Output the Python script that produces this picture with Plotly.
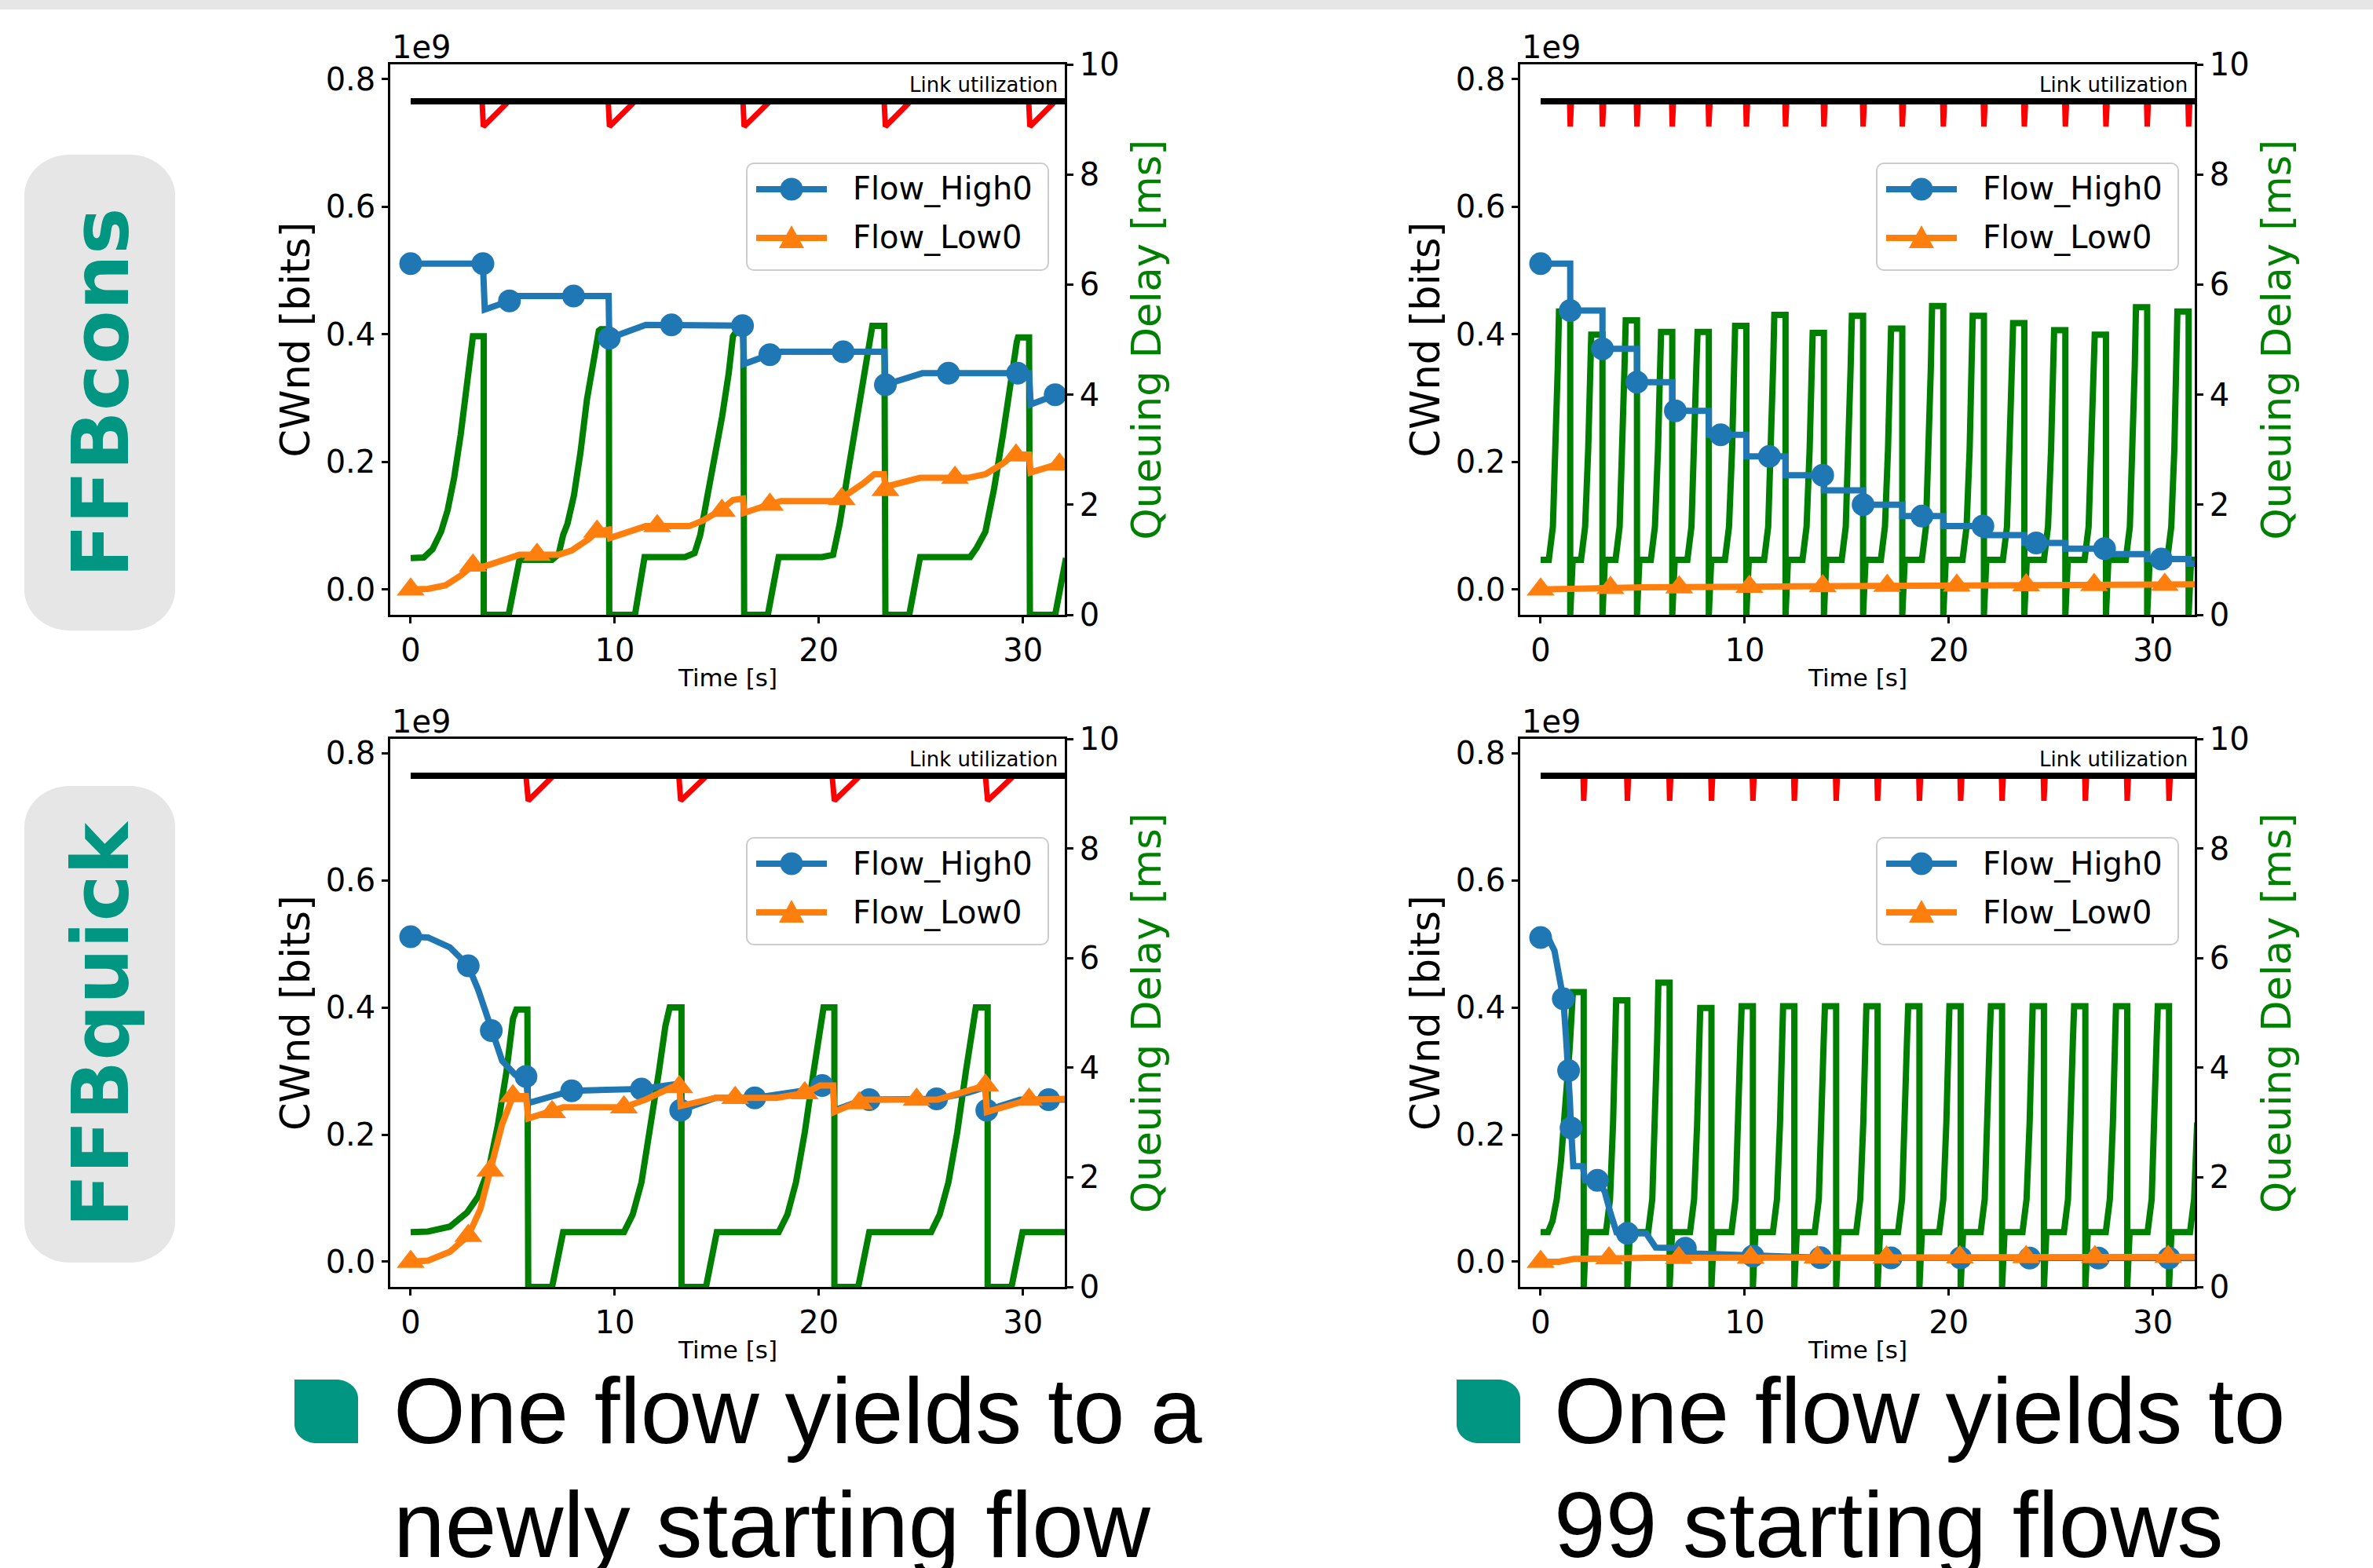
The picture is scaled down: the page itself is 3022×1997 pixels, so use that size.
import plotly.graph_objects as go

W, H = 3022, 1997
FONT = "DejaVu Sans"
BODY_FONT = "Liberation Sans, Arial, sans-serif"
TEAL = "#009682"
GRAY = "#e6e6e6"
BLUE = "#1f77b4"
ORANGE = "#ff7f0e"
GREEN = "#008000"
RED = "#ff0000"
LW = 8

# ---------------- ticks / texts ----------------
time_ticks = [0, 10, 20, 30]
cwnd_ticks = [0.0, 0.2, 0.4, 0.6, 0.8]
cwnd_tick_text = ["0.0", "0.2", "0.4", "0.6", "0.8"]
delay_ticks = [0, 2, 4, 6, 8, 10]
series_names = ["Flow_High0", "Flow_Low0"]
row_labels = ["FFBcons", "FFBquick"]
bullet_text = [["One flow yields to a", "newly starting flow"],
               ["One flow yields to", "99 starting flows"]]
link_full_t = [0.0, 32.2]
link_full_u = [1.0, 1.0]

# ---------------- panel A: FFBcons, one new flow (CWnd in 1e9 bits) ----------------
a_high_t = [0, 3.54, 3.63, 4.84, 5.12, 9.70, 9.73, 11.52, 16.26, 16.34, 17.60, 18.14, 23.22, 23.26,
            25.07, 30.30, 30.38, 31.58, 32.11]
a_high_v = [0.5105, 0.5105, 0.4387, 0.4522, 0.4600, 0.4600, 0.3938, 0.4146, 0.4135, 0.3534, 0.3680,
            0.3725, 0.3725, 0.3209, 0.3389, 0.3389, 0.2900, 0.3052, 0.3108]
a_high_mt = [0, 3.54, 4.84, 7.98, 9.73, 12.78, 16.26, 17.60, 21.19, 23.26, 26.35, 29.74, 31.58]
a_high_mv = [0.5105, 0.5105, 0.4522, 0.4600, 0.3938, 0.4146, 0.4135, 0.3680, 0.3725, 0.3209, 0.3389,
             0.3389, 0.3052]
a_low_t = [0, 0.85, 1.71, 2.45, 3.05, 3.58, 5.33, 7.25, 7.89, 8.75, 9.13, 9.71, 9.77, 11.52, 13.65,
           14.30, 15.15, 15.79, 16.28, 16.34, 17.28, 18.14, 20.70, 21.34, 22.19, 22.72, 23.19, 23.26,
           24.96, 27.31, 28.16, 29.02, 29.55, 30.30, 30.38, 32.11]
a_low_v = [0.0, 0.0011, 0.0067, 0.0219, 0.0376, 0.0359, 0.0544, 0.0544, 0.0612, 0.0797, 0.0909, 0.0937,
           0.0808, 0.0993, 0.0993, 0.1077, 0.1234, 0.1403, 0.1425, 0.1201, 0.1302, 0.1386, 0.1386,
           0.1481, 0.1666, 0.1806, 0.1806, 0.1610, 0.1750, 0.1750, 0.1806, 0.1975, 0.2115, 0.2115,
           0.1835, 0.2003]
a_low_mt = [0, 3.05, 6.19, 9.13, 12.08, 15.25, 17.60, 21.12, 23.26, 26.67, 29.66, 31.79]
a_low_mv = [0.0, 0.0376, 0.0544, 0.0909, 0.0993, 0.1234, 0.1330, 0.1420, 0.1560, 0.1750, 0.2100, 0.1960]
a_delay_t = [0, 0.64, 1.07, 1.49, 1.81, 2.13, 2.45, 2.67, 2.88, 3.05, 3.58, 3.58, 4.80, 5.33, 6.93,
             7.25, 7.47, 7.68, 8.00, 8.32, 8.64, 8.96, 9.22, 9.32, 9.71, 9.73, 10.99, 11.46, 13.44,
             13.91, 14.19, 14.51, 14.94, 15.26, 15.58, 15.79, 15.95, 16.30, 16.34, 17.50, 18.03,
             20.16, 20.70, 21.02, 21.44, 21.87, 22.19, 22.45, 22.62, 23.21, 23.26, 24.43, 24.96,
             27.42, 27.74, 28.16, 28.59, 29.02, 29.44, 29.70, 29.76, 30.30, 30.34, 31.58, 32.11]
a_delay_v = [1.03, 1.04, 1.19, 1.51, 1.90, 2.49, 3.27, 3.92, 4.57, 5.06, 5.06, 0, 0, 1.0, 1.0,
             1.1, 1.45, 1.65, 2.17, 2.95, 3.92, 4.57, 5.16, 5.19, 5.19, 0, 0, 1.05, 1.05,
             1.12, 1.45, 2.10, 2.95, 3.60, 4.38, 5.06, 5.15, 5.15, 0, 0, 1.05,
             1.05, 1.09, 1.65, 2.62, 3.60, 4.38, 4.90, 5.25, 5.25, 0, 0, 1.05,
             1.05, 1.22, 1.51, 2.30, 3.27, 4.44, 4.96, 5.04, 5.04, 0, 0, 1.03]
a_util_t = [0, 3.50, 3.56, 4.80, 9.68, 9.74, 10.99, 16.28, 16.34, 17.60, 23.20, 23.26, 24.49,
            30.28, 30.34, 31.58, 32.2]
a_util_u = [1.0, 1.0, 0.9, 1.0, 1.0, 0.9, 1.0, 1.0, 0.9, 1.0, 1.0, 0.9, 1.0, 1.0, 0.9, 1.0, 1.0]

# ---------------- panel B: FFBcons, 99 starting flows ----------------
b_high_t = [0, 1.45, 3.03, 4.72, 6.45, 8.24, 10.08, 12.00, 13.88, 15.80, 17.72, 19.73, 21.72, 23.70,
            25.71, 27.70, 29.72, 31.75, 32.2]
b_high_v = [0.5105, 0.4370, 0.3770, 0.3248, 0.2799, 0.2424, 0.2087, 0.1790, 0.1554, 0.1330, 0.1150,
            0.0993, 0.0853, 0.0729, 0.0640, 0.0555, 0.0477, 0.0404, 0.0404]
b_high_mt = [0, 1.45, 3.03, 4.72, 6.60, 8.82, 11.21, 13.82, 15.80, 18.68, 21.67, 24.28, 27.63, 30.41]
b_high_mv = [0.5105, 0.4370, 0.3770, 0.3248, 0.2799, 0.2424, 0.2087, 0.1790, 0.1330, 0.1150, 0.0993,
             0.0729, 0.0640, 0.0477]
b_low_t = [0, 5.0, 10.0, 20.0, 32.2]
b_low_v = [0.0, 0.0035, 0.0045, 0.0062, 0.0080]
b_low_mt = [0, 3.42, 6.79, 10.23, 13.82, 16.98, 20.39, 23.79, 27.12, 30.58]
b_low_mv = [0.0, 0.0025, 0.0035, 0.0045, 0.0052, 0.0058, 0.0062, 0.0067, 0.0072, 0.0076]
b_delay_t = [0,
             0.40, 0.60, 0.75, 0.84, 0.90, 1.45, 1.45, 1.57,
             1.98, 2.18, 2.33, 2.42, 2.48, 3.03, 3.03, 3.15,
             3.67, 3.87, 4.02, 4.11, 4.17, 4.72, 4.72, 4.84,
             5.40, 5.60, 5.75, 5.84, 5.90, 6.45, 6.45, 6.57,
             7.19, 7.39, 7.54, 7.63, 7.69, 8.24, 8.24, 8.36,
             9.03, 9.23, 9.38, 9.47, 9.53, 10.08, 10.08, 10.20,
             10.95, 11.15, 11.30, 11.39, 11.45, 12.00, 12.00, 12.12,
             12.83, 13.03, 13.18, 13.27, 13.33, 13.88, 13.88, 14.00,
             14.75, 14.95, 15.10, 15.19, 15.25, 15.80, 15.80, 15.92,
             16.67, 16.87, 17.02, 17.11, 17.17, 17.72, 17.72, 17.84,
             18.68, 18.88, 19.03, 19.12, 19.18, 19.73, 19.73, 19.85,
             20.67, 20.87, 21.02, 21.11, 21.17, 21.72, 21.72, 21.84,
             22.65, 22.85, 23.00, 23.09, 23.15, 23.70, 23.70, 23.82,
             24.66, 24.86, 25.01, 25.10, 25.16, 25.71, 25.71, 25.83,
             26.65, 26.85, 27.00, 27.09, 27.15, 27.70, 27.70, 27.82,
             28.67, 28.87, 29.02, 29.11, 29.17, 29.72, 29.72, 29.84,
             30.70, 30.90, 31.05, 31.14, 31.20, 31.75, 31.75, 31.87,
             32.2]
b_delay_v = [1.0,
             1.0, 1.6, 3.0, 4.5, 5.51, 5.51, 0, 1.0,
             1.0, 1.6, 3.0, 4.5, 5.09, 5.09, 0, 1.0,
             1.0, 1.6, 3.0, 4.5, 5.35, 5.35, 0, 1.0,
             1.0, 1.6, 3.0, 4.5, 5.14, 5.14, 0, 1.0,
             1.0, 1.6, 3.0, 4.5, 5.14, 5.14, 0, 1.0,
             1.0, 1.6, 3.0, 4.5, 5.25, 5.25, 0, 1.0,
             1.0, 1.6, 3.0, 4.5, 5.45, 5.45, 0, 1.0,
             1.0, 1.6, 3.0, 4.5, 5.12, 5.12, 0, 1.0,
             1.0, 1.6, 3.0, 4.5, 5.43, 5.43, 0, 1.0,
             1.0, 1.6, 3.0, 4.5, 5.20, 5.20, 0, 1.0,
             1.0, 1.6, 3.0, 4.5, 5.61, 5.61, 0, 1.0,
             1.0, 1.6, 3.0, 4.5, 5.43, 5.43, 0, 1.0,
             1.0, 1.6, 3.0, 4.5, 5.30, 5.30, 0, 1.0,
             1.0, 1.6, 3.0, 4.5, 5.17, 5.17, 0, 1.0,
             1.0, 1.6, 3.0, 4.5, 5.09, 5.09, 0, 1.0,
             1.0, 1.6, 3.0, 4.5, 5.59, 5.59, 0, 1.0,
             1.0, 1.6, 3.0, 4.5, 5.51, 5.51, 0, 1.0,
             1.0]
b_util_t = [0, 1.42, 1.45, 1.51, 3.00, 3.03, 3.09, 4.69, 4.72, 4.78, 6.42, 6.45, 6.51, 8.21, 8.24, 8.30,
            10.05, 10.08, 10.14, 11.97, 12.00, 12.06, 13.85, 13.88, 13.94, 15.77, 15.80, 15.86,
            17.69, 17.72, 17.78, 19.70, 19.73, 19.79, 21.69, 21.72, 21.78, 23.67, 23.70, 23.76,
            25.68, 25.71, 25.77, 27.67, 27.70, 27.76, 29.69, 29.72, 29.78, 31.72, 31.75, 31.81, 32.2]
b_util_u = [1.0, 1.0, 0.9, 1.0, 1.0, 0.9, 1.0, 1.0, 0.9, 1.0, 1.0, 0.9, 1.0, 1.0, 0.9, 1.0,
            1.0, 0.9, 1.0, 1.0, 0.9, 1.0, 1.0, 0.9, 1.0, 1.0, 0.9, 1.0,
            1.0, 0.9, 1.0, 1.0, 0.9, 1.0, 1.0, 0.9, 1.0, 1.0, 0.9, 1.0,
            1.0, 0.9, 1.0, 1.0, 0.9, 1.0, 1.0, 0.9, 1.0, 1.0, 0.9, 1.0, 1.0]

# ---------------- panel C: FFBquick, one new flow ----------------
c_high_t = [0, 0.85, 1.92, 2.82, 3.31, 3.95, 4.48, 5.12, 5.65, 5.76, 7.89, 11.31, 12.80, 13.18, 13.23,
            14.94, 16.86, 19.20, 20.16, 20.70, 20.76, 22.19, 25.77, 27.31, 28.16, 28.23, 29.87, 32.2]
c_high_v = [0.5114, 0.5103, 0.4947, 0.4657, 0.4279, 0.3638, 0.3164, 0.2942, 0.2914, 0.2496, 0.2691,
            0.2719, 0.2802, 0.2802, 0.2384, 0.2579, 0.2579, 0.2690, 0.2774, 0.2774, 0.2384, 0.2552,
            0.2563, 0.2660, 0.2747, 0.2384, 0.2552, 0.2552]
c_high_mt = [0, 2.82, 3.95, 5.65, 7.89, 11.31, 13.23, 16.86, 20.16, 22.47, 25.77, 28.23, 31.26]
c_high_mv = [0.5114, 0.4657, 0.3638, 0.2914, 0.2691, 0.2719, 0.2384, 0.2579, 0.2774, 0.2552, 0.2563,
             0.2384, 0.2552]
c_low_t = [0, 0.85, 1.92, 2.82, 3.41, 3.90, 4.48, 5.01, 5.65, 5.76, 6.93, 7.47, 10.45, 11.52, 12.80,
           13.18, 13.23, 14.94, 17.92, 19.31, 20.06, 20.70, 20.76, 22.19, 25.82, 27.31, 28.16, 28.23,
           30.30, 32.2]
c_low_v = [0.0, 0.0017, 0.0156, 0.0407, 0.0825, 0.1437, 0.2162, 0.2607, 0.2607, 0.2256, 0.2357, 0.2429,
           0.2429, 0.2552, 0.2747, 0.2747, 0.2451, 0.2579, 0.2579, 0.2652, 0.2774, 0.2774, 0.2357,
           0.2552, 0.2552, 0.2691, 0.2774, 0.2357, 0.2552, 0.2563]
c_low_mt = [0, 2.82, 3.90, 5.01, 6.93, 10.45, 13.16, 15.90, 19.31, 21.98, 24.79, 28.16, 30.30]
c_low_mv = [0.0, 0.0407, 0.1437, 0.2607, 0.2357, 0.2429, 0.2747, 0.2579, 0.2652, 0.2496, 0.2552,
            0.2774, 0.2552]
c_delay_t = [0, 0.85, 1.92, 2.77, 3.31, 3.84, 4.27, 4.69, 5.01, 5.18, 5.72, 5.76, 6.93, 7.47, 10.45,
             10.88, 11.31, 11.73, 12.16, 12.48, 12.69, 13.27, 13.27, 14.47, 15.00, 18.03, 18.46,
             18.88, 19.31, 19.74, 20.06, 20.23, 20.76, 20.76, 21.93, 22.47, 25.50, 25.92, 26.35,
             26.78, 27.20, 27.52, 27.69, 28.27, 28.27, 29.44, 29.98, 32.2]
c_delay_v = [1.0, 1.01, 1.10, 1.36, 1.65, 2.17, 2.95, 3.92, 4.89, 5.06, 5.06, 0, 0, 1.0, 1.0,
             1.32, 1.91, 2.82, 3.92, 4.76, 5.10, 5.10, 0, 0, 1.0, 1.0, 1.32,
             1.91, 2.82, 3.92, 4.76, 5.10, 5.10, 0, 0, 1.0, 1.0, 1.32, 1.91,
             2.82, 3.92, 4.76, 5.10, 5.10, 0, 0, 1.0, 1.0]
c_util_t = [0, 5.65, 5.76, 6.99, 13.14, 13.23, 14.51, 20.65, 20.76, 22.02, 28.16, 28.27, 29.55, 32.2]
c_util_u = [1.0, 1.0, 0.9, 1.0, 1.0, 0.9, 1.0, 1.0, 0.9, 1.0, 1.0, 0.9, 1.0, 1.0]

# ---------------- panel D: FFBquick, 99 starting flows ----------------
d_high_t = [0, 0.43, 0.68, 0.90, 1.11, 1.24, 1.37, 1.43, 1.49, 1.60, 2.07, 2.18, 2.78, 3.14, 3.42,
            3.72, 4.25, 5.17, 5.64, 6.45, 7.09, 7.62, 9.87, 10.40, 13.71, 32.2]
d_high_v = [0.5103, 0.5058, 0.4891, 0.4501, 0.4139, 0.3554, 0.3008, 0.2552, 0.2106, 0.1504, 0.1504,
            0.1281, 0.1281, 0.1103, 0.0769, 0.0462, 0.0446, 0.0446, 0.0223, 0.0212, 0.0212, 0.0128,
            0.0111, 0.0089, 0.0065, 0.0058]
d_high_mt = [0, 1.11, 1.37, 1.49, 2.78, 4.25, 7.09, 10.40, 13.71, 17.17, 20.58, 23.96, 27.33, 30.79]
d_high_mv = [0.5103, 0.4139, 0.3008, 0.2106, 0.1281, 0.0446, 0.0212, 0.0089, 0.0065, 0.0060, 0.0060,
             0.0059, 0.0058, 0.0058]
d_low_t = [0, 0.9, 1.64, 5.17, 32.2]
d_low_v = [0.0, 0.0, 0.0045, 0.0061, 0.0078]
d_low_mt = [0, 3.35, 6.77, 10.29, 13.56, 16.95, 20.54, 23.79, 27.16, 30.75]
d_low_mv = [0.0, 0.0055, 0.0062, 0.0064, 0.0066, 0.0068, 0.0070, 0.0072, 0.0075, 0.0077]
d_delay_t = [0, 0.36, 0.58, 0.79, 1.00, 1.22, 1.43, 1.58, 2.11, 2.11, 2.23,
             3.20, 3.40, 3.55, 3.64, 3.70, 4.25, 4.25, 4.37,
             5.27, 5.47, 5.62, 5.71, 5.77, 6.32, 6.32, 6.44,
             7.32, 7.52, 7.67, 7.76, 7.82, 8.37, 8.37, 8.49,
             9.35, 9.55, 9.70, 9.79, 9.85, 10.40, 10.40, 10.52,
             11.38, 11.58, 11.73, 11.82, 11.88, 12.43, 12.43, 12.55,
             13.43, 13.63, 13.78, 13.87, 13.93, 14.48, 14.48, 14.60,
             15.46, 15.66, 15.81, 15.90, 15.96, 16.51, 16.51, 16.63,
             17.51, 17.71, 17.86, 17.95, 18.01, 18.56, 18.56, 18.68,
             19.53, 19.73, 19.88, 19.97, 20.03, 20.58, 20.58, 20.70,
             21.56, 21.76, 21.91, 22.00, 22.06, 22.61, 22.61, 22.73,
             23.61, 23.81, 23.96, 24.05, 24.11, 24.66, 24.66, 24.78,
             25.64, 25.84, 25.99, 26.08, 26.14, 26.69, 26.69, 26.81,
             27.69, 27.89, 28.04, 28.13, 28.19, 28.74, 28.74, 28.86,
             29.74, 29.94, 30.09, 30.18, 30.24, 30.79, 30.79, 30.91,
             31.82, 32.02, 32.17]
d_delay_v = [1.0, 1.0, 1.2, 1.6, 2.3, 3.3, 4.4, 5.38, 5.38, 0, 1.0,
             1.0, 1.6, 3.0, 4.5, 5.23, 5.23, 0, 1.0,
             1.0, 1.6, 3.0, 4.5, 5.55, 5.55, 0, 1.0,
             1.0, 1.6, 3.0, 4.5, 5.09, 5.09, 0, 1.0,
             1.0, 1.6, 3.0, 4.5, 5.12, 5.12, 0, 1.0,
             1.0, 1.6, 3.0, 4.5, 5.12, 5.12, 0, 1.0,
             1.0, 1.6, 3.0, 4.5, 5.12, 5.12, 0, 1.0,
             1.0, 1.6, 3.0, 4.5, 5.12, 5.12, 0, 1.0,
             1.0, 1.6, 3.0, 4.5, 5.12, 5.12, 0, 1.0,
             1.0, 1.6, 3.0, 4.5, 5.12, 5.12, 0, 1.0,
             1.0, 1.6, 3.0, 4.5, 5.12, 5.12, 0, 1.0,
             1.0, 1.6, 3.0, 4.5, 5.12, 5.12, 0, 1.0,
             1.0, 1.6, 3.0, 4.5, 5.12, 5.12, 0, 1.0,
             1.0, 1.6, 3.0, 4.5, 5.12, 5.12, 0, 1.0,
             1.0, 1.6, 3.0, 4.5, 5.12, 5.12, 0, 1.0,
             1.0, 1.6, 3.0]
d_util_t = [0, 2.08, 2.11, 2.17, 4.22, 4.25, 4.31, 6.29, 6.32, 6.38, 8.34, 8.37, 8.43, 10.37, 10.40,
            10.46, 12.40, 12.43, 12.49, 14.45, 14.48, 14.54, 16.48, 16.51, 16.57, 18.53, 18.56, 18.62,
            20.55, 20.58, 20.64, 22.58, 22.61, 22.67, 24.63, 24.66, 24.72, 26.66, 26.69, 26.75,
            28.71, 28.74, 28.80, 30.76, 30.79, 30.85, 32.2]
d_util_u = [1.0, 1.0, 0.9, 1.0, 1.0, 0.9, 1.0, 1.0, 0.9, 1.0, 1.0, 0.9, 1.0, 1.0, 0.9,
            1.0, 1.0, 0.9, 1.0, 1.0, 0.9, 1.0, 1.0, 0.9, 1.0, 1.0, 0.9, 1.0,
            1.0, 0.9, 1.0, 1.0, 0.9, 1.0, 1.0, 0.9, 1.0, 1.0, 0.9, 1.0,
            1.0, 0.9, 1.0, 1.0, 0.9, 1.0, 1.0]

# ---------------- layout (pixel boxes of the four panels) ----------------
panels = [
    dict(L=497, R=1356, T=82, B=783, delay=(a_delay_t, a_delay_v), util=(a_util_t, a_util_u),
         high=(a_high_t, a_high_v), high_m=(a_high_mt, a_high_mv), high_shape="linear",
         low=(a_low_t, a_low_v), low_m=(a_low_mt, a_low_mv)),
    dict(L=1936, R=2795, T=82, B=783, delay=(b_delay_t, b_delay_v), util=(b_util_t, b_util_u),
         high=(b_high_t, b_high_v), high_m=(b_high_mt, b_high_mv), high_shape="hv",
         low=(b_low_t, b_low_v), low_m=(b_low_mt, b_low_mv)),
    dict(L=497, R=1356, T=941, B=1639, delay=(c_delay_t, c_delay_v), util=(c_util_t, c_util_u),
         high=(c_high_t, c_high_v), high_m=(c_high_mt, c_high_mv), high_shape="linear",
         low=(c_low_t, c_low_v), low_m=(c_low_mt, c_low_mv)),
    dict(L=1936, R=2795, T=941, B=1639, delay=(d_delay_t, d_delay_v), util=(d_util_t, d_util_u),
         high=(d_high_t, d_high_v), high_m=(d_high_mt, d_high_mv), high_shape="linear",
         low=(d_low_t, d_low_v), low_m=(d_low_mt, d_low_mv)),
]


def fx(px):
    return px / W


def fy(py):
    return 1 - py / H


def P(px, py):
    return f"{fx(px):.6f},{fy(py):.6f}"


K = 0.5523


def rrect(x0, y0, x1, y1, rx, ry):
    return ("M" + P(x0 + rx, y0) + " L" + P(x1 - rx, y0) +
            " C" + P(x1 - rx + K * rx, y0) + " " + P(x1, y0 + ry - K * ry) + " " + P(x1, y0 + ry) +
            " L" + P(x1, y1 - ry) +
            " C" + P(x1, y1 - ry + K * ry) + " " + P(x1 - rx + K * rx, y1) + " " + P(x1 - rx, y1) +
            " L" + P(x0 + rx, y1) +
            " C" + P(x0 + rx - K * rx, y1) + " " + P(x0, y1 - ry + K * ry) + " " + P(x0, y1 - ry) +
            " L" + P(x0, y0 + ry) +
            " C" + P(x0, y0 + ry - K * ry) + " " + P(x0 + rx - K * rx, y0) + " " + P(x0 + rx, y0) + " Z")


def leaf(x0, y0, x1, y1, rx, ry):
    return ("M" + P(x0, y0) + " L" + P(x1 - rx, y0) +
            " C" + P(x1 - rx + K * rx, y0) + " " + P(x1, y0 + ry - K * ry) + " " + P(x1, y0 + ry) +
            " L" + P(x1, y1) + " L" + P(x0 + rx, y1) +
            " C" + P(x0 + rx - K * rx, y1) + " " + P(x0, y1 - ry + K * ry) + " " + P(x0, y1 - ry) + " Z")


shapes = []
annotations = []


def ann(text, px, py, size, color="black", xanchor="center", yanchor="middle", angle=0, family=FONT):
    annotations.append(dict(text=text, x=fx(px), y=fy(py), xref="paper", yref="paper", showarrow=False,
                            xanchor=xanchor, yanchor=yanchor, textangle=angle,
                            font=dict(size=size, color=color, family=family)))


fig = go.Figure()
layout = dict(width=W, height=H, autosize=False, margin=dict(l=0, r=0, t=0, b=0, pad=0),
              paper_bgcolor="white", plot_bgcolor="white", showlegend=False, template="none",
              font=dict(family=FONT, color="black"))

axis_common = dict(showgrid=False, zeroline=False, ticks="outside", ticklen=8, tickwidth=2.5,
                   tickcolor="black", showline=True, linecolor="black", linewidth=2.5,
                   automargin=False, tickfont=dict(size=40, family=FONT, color="black"))

for i, p in enumerate(panels):
    n = i + 1
    L, R, T, B = p["L"], p["R"], p["T"], p["B"]
    xa = "x" if n == 1 else f"x{n}"
    xkey = "xaxis" if n == 1 else f"xaxis{n}"
    iq, ic, iu = 3 * i + 1, 3 * i + 2, 3 * i + 3
    yq = "y" if iq == 1 else f"y{iq}"
    yc, yu = f"y{ic}", f"y{iu}"
    layout[xkey] = dict(domain=[fx(L), fx(R)], anchor=yq, range=[-1.0, 32.05], tickvals=time_ticks,
                        mirror=True, **axis_common)
    layout["yaxis" if iq == 1 else f"yaxis{iq}"] = dict(
        domain=[fy(B), fy(T)], anchor=xa, side="right", range=[0, 10], tickvals=delay_ticks,
        mirror=True, **axis_common)
    layout[f"yaxis{ic}"] = dict(overlaying=yq, anchor=xa, side="left", range=[-0.0396, 0.8228],
                                tickvals=cwnd_ticks, ticktext=cwnd_tick_text, **axis_common)
    layout[f"yaxis{iu}"] = dict(overlaying=yq, anchor=xa, range=[-1.04, 1.147], visible=False,
                                showgrid=False, zeroline=False)

    # queuing delay (base layer)
    fig.add_trace(go.Scatter(x=p["delay"][0], y=p["delay"][1], mode="lines",
                             line=dict(color=GREEN, width=LW), xaxis=xa, yaxis=yq))
    # CWnd lines + markers
    fig.add_trace(go.Scatter(x=p["high"][0], y=p["high"][1], mode="lines",
                             line=dict(color=BLUE, width=LW, shape=p["high_shape"]), xaxis=xa, yaxis=yc))
    fig.add_trace(go.Scatter(x=p["high_m"][0], y=p["high_m"][1], mode="markers",
                             marker=dict(symbol="circle", size=29, color=BLUE, line=dict(width=0)),
                             xaxis=xa, yaxis=yc))
    fig.add_trace(go.Scatter(x=p["low"][0], y=p["low"][1], mode="lines",
                             line=dict(color=ORANGE, width=LW), xaxis=xa, yaxis=yc))
    fig.add_trace(go.Scatter(x=p["low_m"][0], y=p["low_m"][1], mode="markers",
                             marker=dict(symbol="triangle-up", size=31, color=ORANGE, line=dict(width=0)),
                             xaxis=xa, yaxis=yc))
    # link utilization
    fig.add_trace(go.Scatter(x=p["util"][0], y=p["util"][1], mode="lines",
                             line=dict(color=RED, width=7), xaxis=xa, yaxis=yu))
    fig.add_trace(go.Scatter(x=link_full_t, y=link_full_u, mode="lines",
                             line=dict(color="black", width=LW), xaxis=xa, yaxis=yu))

    # texts around the axes
    ann("1e9", L, T - 22, 40, xanchor="left")
    ann("CWnd [bits]", L - 121, (T + B) / 2, 51, angle=-90)
    ann("Queuing Delay [ms]", R + 104, (T + B) / 2, 51, color=GREEN, angle=-90)
    ann("Time [s]", (L + R) / 2, B + 80, 31)
    ann("Link utilization", R - 7, T + 26, 26, xanchor="right")

    # legend box
    shapes.append(dict(type="path", path=rrect(L + 454, T + 126, L + 838, T + 262, 9, 9),
                       xref="paper", yref="paper", fillcolor="white",
                       line=dict(color="#cccccc", width=2), layer="above"))
    for row, (color, name) in enumerate([(BLUE, series_names[0]), (ORANGE, series_names[1])]):
        ry = T + 159 + 62 * row
        cx = L + 511
        shapes.append(dict(type="line", x0=fx(L + 466), x1=fx(L + 556), y0=fy(ry), y1=fy(ry),
                           xref="paper", yref="paper", line=dict(color=color, width=LW), layer="above"))
        if row == 0:
            shapes.append(dict(type="circle", x0=fx(cx - 14.5), x1=fx(cx + 14.5), y0=fy(ry + 14.5),
                               y1=fy(ry - 14.5), xref="paper", yref="paper", fillcolor=color,
                               line=dict(width=0), layer="above"))
        else:
            shapes.append(dict(type="path",
                               path="M" + P(cx, ry - 16) + " L" + P(cx + 16, ry + 13) + " L" +
                                    P(cx - 16, ry + 13) + " Z",
                               xref="paper", yref="paper", fillcolor=color, line=dict(width=0),
                               layer="above"))
        ann(name, L + 587, ry, 40, xanchor="left")

# slide decoration
shapes.append(dict(type="rect", x0=0, x1=1, y0=fy(12), y1=1, xref="paper", yref="paper",
                   fillcolor=GRAY, line=dict(width=0), layer="below"))
for k, (y0, y1) in enumerate([(197, 803), (1001, 1608)]):
    shapes.append(dict(type="path", path=rrect(31, y0, 223, y1, 58, 52), xref="paper", yref="paper",
                       fillcolor=GRAY, line=dict(width=0), layer="below"))
    ann("<b>" + row_labels[k] + "</b>", 128, (y0 + y1) / 2, 100, color=TEAL, angle=-90)

for k, (bx, tx) in enumerate([(375, 499), (1855, 1977)]):
    shapes.append(dict(type="path", path=leaf(bx, 1757, bx + 81, 1838, 28, 24), xref="paper",
                       yref="paper", fillcolor=TEAL, line=dict(width=0), layer="below"))
    ann(bullet_text[k][0], tx, 1797, 118, xanchor="left", family=BODY_FONT)
    ann(bullet_text[k][1], tx, 1942, 118, xanchor="left", family=BODY_FONT)

layout["shapes"] = shapes
layout["annotations"] = annotations
fig.update_layout(**layout)

fig.write_html("out.html", include_plotlyjs=True, config={"displayModeBar": False},
               post_script="document.body.style.margin='0';document.body.style.overflow='hidden';")
